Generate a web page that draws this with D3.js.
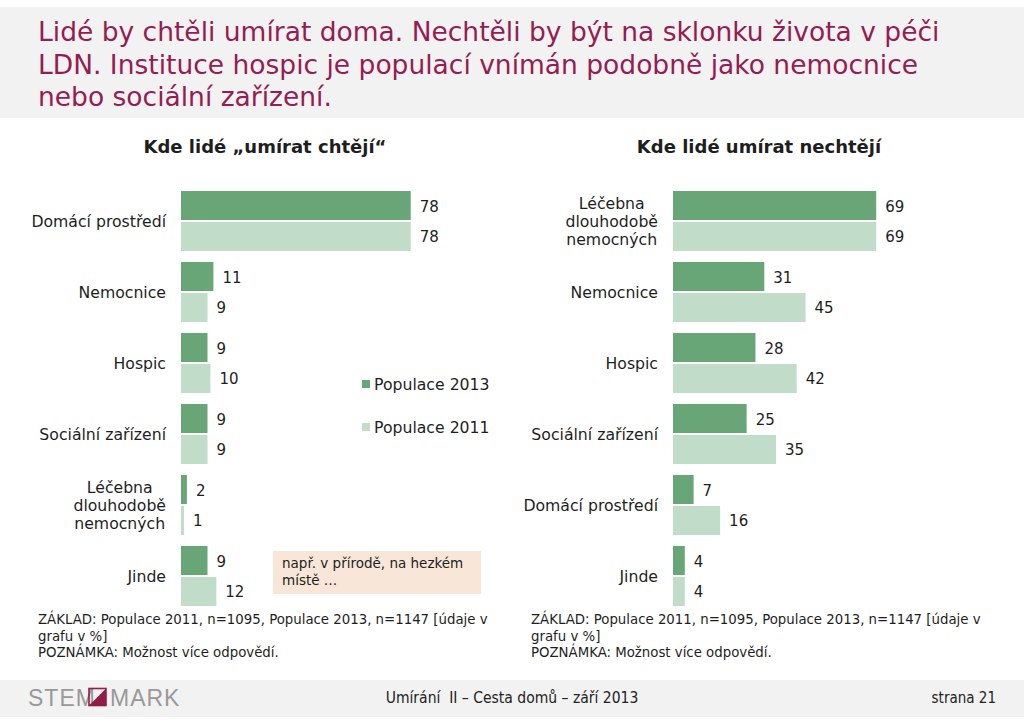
<!DOCTYPE html>
<html>
<head>
<meta charset="utf-8">
<script src="https://cdn.jsdelivr.net/npm/d3@7"></script>
<style>
  html, body { margin: 0; padding: 0; background: #fff; }
  svg { display: block; }
</style>
</head>
<body>
<svg id="chart" width="1024" height="724"></svg>
<script>
// ---------- DATA ----------
const titleLines = [
  "Lidé by chtěli umírat doma. Nechtěli by být na sklonku života v péči",
  "LDN. Instituce hospic je populací vnímán podobně jako nemocnice",
  "nebo sociální zařízení."
];
const seriesNames = ["Populace 2013", "Populace 2011"];

const leftTitle = "Kde lidé „umírat chtějí“";
const leftCategories = ["Domácí prostředí", "Nemocnice", "Hospic", "Sociální zařízení", "Léčebna\ndlouhodobě\nnemocných", "Jinde"];
const left2013 = [78, 11, 9, 9, 2, 9];
const left2011 = [78, 9, 10, 9, 1, 12];

const rightTitle = "Kde lidé umírat nechtějí";
const rightCategories = ["Léčebna\ndlouhodobě\nnemocných", "Nemocnice", "Hospic", "Sociální zařízení", "Domácí prostředí", "Jinde"];
const right2013 = [69, 31, 28, 25, 7, 4];
const right2011 = [69, 45, 42, 35, 16, 4];

const noteLines = ["např. v přírodě, na hezkém", "místě …"];
const footnoteLines = [
  "ZÁKLAD: Populace 2011, n=1095, Populace 2013, n=1147 [údaje v",
  "grafu v %]",
  "POZNÁMKA: Možnost více odpovědí."
];
const footerCenter = "Umírání  II – Cesta domů – září 2013";
const footerRight = "strana 21";

// ---------- STYLE ----------
const colors = { "Populace 2013": "#68a678", "Populace 2011": "#c1dcc9" };
const titleColor = "#941d52";
const textColor = "#1e1e1e";
const fontMain = "'DejaVu Sans', Verdana, sans-serif";
const fontCond = "'DejaVu Sans Condensed', 'DejaVu Sans', sans-serif";

const svg = d3.select("#chart");

// header band
svg.append("rect").attr("x", 0).attr("y", 7).attr("width", 1024).attr("height", 111).attr("fill", "#f2f2f2");
const tt = svg.append("g").selectAll("text").data(titleLines).join("text")
  .attr("x", 38).attr("y", (d, i) => 41 + i * 32.5)
  .attr("font-family", fontMain).attr("font-size", 26)
  .attr("fill", titleColor).text(d => d);
// fit first line to the reference width
{
  const w = tt.node().getComputedTextLength();
  const fs = 26 * 902 / w;
  tt.attr("font-size", Math.min(28, Math.max(22, fs)));
}

// footer band
svg.append("rect").attr("x", 0).attr("y", 680).attr("width", 1024).attr("height", 37).attr("fill", "#f2f2f2");

function drawPanel(opts) {
  const g = svg.append("g");
  const x = d3.scaleLinear().domain([0, 100]).range([opts.x0, opts.x0 + 294.5]);
  const y = d3.scaleBand().domain(opts.categories).range([191, 606]).paddingInner(11 / 71).paddingOuter(0);
  const ys = d3.scaleBand().domain(seriesNames).range([0, y.bandwidth()]).padding(0);

  // chart title
  g.append("text").attr("x", opts.titleX).attr("y", 153)
    .attr("text-anchor", "middle").attr("font-family", fontMain)
    .attr("font-weight", "bold").attr("font-size", 18).attr("fill", textColor)
    .text(opts.title);

  const rows = opts.categories.map((c, i) => ({ cat: c, vals: [
    { s: seriesNames[0], v: opts.v2013[i] },
    { s: seriesNames[1], v: opts.v2011[i] }
  ]}));

  const grp = g.selectAll("g.cat").data(rows).join("g").attr("class", "cat")
    .attr("transform", d => `translate(0,${y(d.cat)})`);

  grp.selectAll("rect").data(d => d.vals).join("rect")
    .attr("x", x(0)).attr("y", d => ys(d.s) + (d.s === seriesNames[1] ? 1 : 0))
    .attr("width", d => Math.max(1, x(d.v) - x(0)))
    .attr("height", ys.bandwidth() - 1)
    .attr("fill", d => colors[d.s]);

  grp.selectAll("text.val").data(d => d.vals).join("text").attr("class", "val")
    .attr("x", d => x(d.v) + 9).attr("y", d => ys(d.s) + ys.bandwidth() / 2 + 0.5)
    .attr("dominant-baseline", "central")
    .attr("font-family", fontMain).attr("font-size", 15).attr("fill", textColor)
    .text(d => d.v);

  // category labels
  grp.each(function (d) {
    const lines = d.cat.split("\n");
    const t = d3.select(this).append("text")
      .attr("font-family", fontMain).attr("font-size", 15.7).attr("fill", textColor);
    const lh = 18;
    const cy = y.bandwidth() / 2;
    const spans = t.selectAll("tspan").data(lines).join("tspan")
      .attr("y", (l, i) => cy + (i - (lines.length - 1) / 2) * lh)
      .attr("dominant-baseline", "central")
      .text(l => l);
    if (lines.length === 1) {
      t.attr("text-anchor", "end");
      spans.attr("x", opts.labelRight);
    } else {
      let maxW = 0;
      spans.each(function () { maxW = Math.max(maxW, this.getComputedTextLength()); });
      t.attr("text-anchor", "middle");
      spans.attr("x", opts.labelRight - maxW / 2);
    }
  });

  // footnote
  g.append("g").selectAll("text").data(footnoteLines).join("text")
    .attr("x", opts.footX).attr("y", (d, i) => 624 + i * 16.5)
    .attr("font-family", fontCond).attr("font-size", 14.8).attr("fill", textColor)
    .text(d => d);
}

drawPanel({ x0: 181, title: leftTitle, titleX: 265, categories: leftCategories, v2013: left2013, v2011: left2011, labelRight: 166, footX: 38 });
drawPanel({ x0: 673, title: rightTitle, titleX: 759, categories: rightCategories, v2013: right2013, v2011: right2011, labelRight: 658, footX: 531 });

// legend
const leg = svg.append("g").selectAll("g").data(seriesNames).join("g")
  .attr("transform", (d, i) => `translate(362,${384 + i * 43})`);
leg.append("rect").attr("x", 0).attr("y", -4).attr("width", 8).attr("height", 8).attr("fill", d => colors[d]);
leg.append("text").attr("x", 12).attr("y", 0).attr("dominant-baseline", "central")
  .attr("font-family", fontMain).attr("font-size", 15.7).attr("fill", textColor).text(d => d);

// note box
svg.append("rect").attr("x", 273).attr("y", 551).attr("width", 208).attr("height", 43).attr("fill", "#f8e6d8");
svg.append("g").selectAll("text").data(noteLines).join("text")
  .attr("x", 282).attr("y", (d, i) => 568 + i * 17)
  .attr("font-family", fontMain).attr("font-size", 13.5).attr("fill", textColor).text(d => d);

// footer texts
svg.append("text").attr("x", 512).attr("y", 703).attr("text-anchor", "middle")
  .style("white-space", "pre")
  .attr("font-family", fontCond).attr("font-size", 15.5).attr("fill", "#222").text(footerCenter);
svg.append("text").attr("x", 996).attr("y", 703).attr("text-anchor", "end")
  .attr("font-family", fontCond).attr("font-size", 15).attr("fill", "#222").text(footerRight);

// logo
const logo = svg.append("g").attr("transform", "translate(28,706)");
logo.append("text").attr("x", 0).attr("y", 0).attr("font-family", "'Liberation Sans', sans-serif")
  .attr("font-size", 23).attr("letter-spacing", 1).attr("fill", "#999").text("STEM");
logo.append("rect").attr("x", 61).attr("y", -17.5).attr("width", 17).attr("height", 17)
  .attr("fill", "none").attr("stroke", "#8f1d45").attr("stroke-width", 1.6);
logo.append("path").attr("d", "M61,-0.5 L78,-17.5 L78,-0.5 Z").attr("fill", "#8f1d45");
logo.append("text").attr("x", 82).attr("y", 0).attr("font-family", "'Liberation Sans', sans-serif")
  .attr("font-size", 23).attr("letter-spacing", 1).attr("fill", "#999").text("MARK");
</script>
</body>
</html>
